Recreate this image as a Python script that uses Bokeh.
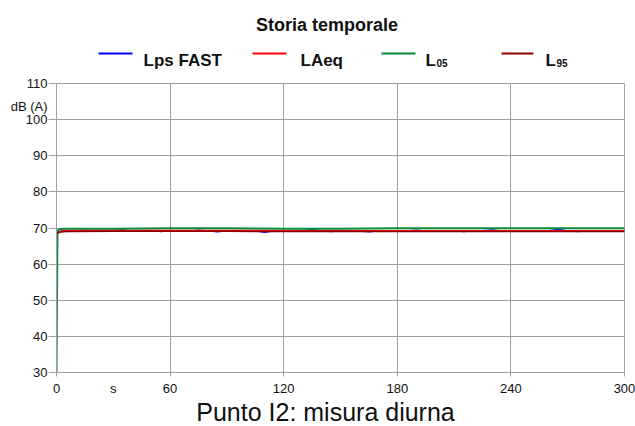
from bokeh.plotting import figure
from bokeh.models import Range1d, FixedTicker, LinearAxis
from bokeh.layouts import column
from bokeh.core.properties import value
from bokeh.embed import file_html
from bokeh.resources import INLINE

# ---- data ----
title_text = "Storia temporale"
caption_text = "Punto I2: misura diurna"
series_names = ["Lps FAST", "LAeq", "L", "L"]
series_subs = ["", "", "05", "95"]
x_ticks = [0, 60, 120, 180, 240, 300]
y_ticks = [30, 40, 50, 60, 70, 80, 90, 100, 110]
x_unit = "s"
y_unit = "dB (A)"

t_fast = [0.5, 1, 2, 3,
          5, 10, 15, 20, 25, 30, 35, 40, 45, 50,
          55, 60, 65, 70, 75, 80, 85, 90, 95, 100,
          105, 110, 115, 120, 125, 130, 135, 140, 145, 150,
          155, 160, 165, 170, 175, 180, 185, 190, 195, 200,
          205, 210, 215, 220, 225, 230, 235, 240, 245, 250,
          255, 260, 265, 270, 275, 280, 285, 290, 295, 300]
lps_fast = [68.6, 68.9, 69.1, 69.2,
            69.3, 69.2, 69.4, 69.1, 69.3, 69.2, 69.5, 69.1, 69.2, 69.3,
            69.0, 69.2, 69.3, 69.1, 69.4, 69.2, 68.9, 69.2, 69.3, 69.1,
            69.2, 68.8, 69.2, 69.3, 69.1, 69.2, 69.6, 69.2, 69.0, 69.2,
            69.3, 69.1, 68.9, 69.2, 69.3, 69.1, 69.2, 69.4, 69.2, 69.1,
            69.3, 69.2, 69.0, 69.2, 69.3, 69.5, 69.2, 69.1, 69.3, 69.2,
            69.1, 69.3, 69.6, 69.2, 69.0, 69.2, 69.3, 69.1, 69.2, 69.3]

t_laeq = [0.5, 1, 2, 3, 5, 10, 20, 30, 60, 90, 120, 150, 180, 210, 240, 270, 300]
laeq = [68.6, 68.8, 69.0, 69.1, 69.2, 69.3, 69.3, 69.3, 69.3, 69.3, 69.2, 69.2,
        69.2, 69.2, 69.2, 69.2, 69.2]

t_l05 = [0, 0.5, 1, 2, 5, 30, 60, 90, 120, 150, 180, 210, 240, 270, 300]
l05 = [30, 68.9, 69.5, 69.7, 69.8, 69.8, 69.9, 69.9, 69.8, 69.8, 69.9, 69.9,
       69.9, 69.9, 69.9]

t_l95 = [0.5, 1, 2, 5, 10, 30, 60, 90, 120, 150, 180, 210, 240, 270, 300]
l95 = [68.4, 68.7, 68.9, 69.0, 69.0, 69.1, 69.1, 69.1, 69.0, 69.1, 69.0, 69.0,
       69.0, 69.0, 69.0]

colors = ["#0000ff", "#ff0000", "#0a8a3a", "#8b0000"]
FONT = "Liberation Sans"
GRID = "#a0a0a0"
INK = "#111111"
W = 635


def blank(h):
    f = figure(width=W, height=h, x_range=Range1d(0, W), y_range=Range1d(h, 0),
               title=None, x_axis_type=None, y_axis_type=None, output_backend="svg",
               toolbar_location=None, min_border_left=0, min_border_right=0,
               min_border_top=0, min_border_bottom=0, frame_align=False)
    f.outline_line_color = None
    f.background_fill_color = "white"
    f.border_fill_color = "white"
    return f


# ---- header: title + legend ----
top = blank(75)
top.text(x=[326.5], y=[24], text=[title_text], text_font=value(FONT), text_font_size="18px",
         text_font_style="bold", text_align="center", text_baseline="alphabetic", text_color=INK)
leg_x0 = [98, 252, 381, 501]
leg_x1 = [132, 286, 415, 533]
leg_tx = [143, 300, 425, 545]
sub_tx = [0, 0, 436, 556]
top.segment(x0=leg_x0, y0=[53] * 4, x1=leg_x1, y1=[53] * 4, line_color=colors, line_width=2.2)
top.text(x=leg_tx, y=[60] * 4, text=series_names, text_font=value(FONT), text_font_size="17px",
         text_font_style="bold", text_align="left", text_baseline="alphabetic", text_color=INK)
top.text(x=sub_tx[2:], y=[62] * 2, text=series_subs[2:], text_font=value(FONT),
         text_font_size="10px", text_font_style="bold", text_align="left",
         text_baseline="alphabetic", text_color=INK)

# ---- main chart ----
p = figure(width=W, height=323, x_range=Range1d(0, 300), y_range=Range1d(30, 110),
           title=None, output_backend="svg", toolbar_location=None, frame_align=False,
           min_border_left=56, min_border_right=11, min_border_top=8, min_border_bottom=25)
p.background_fill_color = "white"
p.border_fill_color = "white"
p.outline_line_color = GRID

# inner axes: tick marks only
for ax, ticks, out in ((p.xaxis[0], x_ticks, 4), (p.yaxis[0], y_ticks, 8)):
    ax.ticker = FixedTicker(ticks=ticks)
    ax.axis_line_color = GRID
    ax.major_tick_line_color = GRID
    ax.minor_tick_line_color = None
    ax.major_tick_in = 0
    ax.major_tick_out = out
    ax.major_label_standoff = 0
    ax.major_label_text_font_size = "1px"
    ax.major_label_text_color = None
    ax.major_label_overrides = {t: "" for t in ticks}

# outer axes: labels only (including the unit labels)
xlab_ticks = x_ticks + [30]
ylab_ticks = y_ticks + [103.7]
xl = LinearAxis(ticker=FixedTicker(ticks=xlab_ticks), major_label_overrides={30: x_unit})
yl = LinearAxis(ticker=FixedTicker(ticks=ylab_ticks), major_label_overrides={103.7: y_unit})
for ax in (xl, yl):
    ax.axis_line_color = None
    ax.major_tick_line_color = None
    ax.minor_tick_line_color = None
    ax.major_tick_in = 0
    ax.major_tick_out = 0
    ax.major_label_text_font = FONT
    ax.major_label_text_font_size = "13px"
    ax.major_label_text_color = INK
xl.major_label_standoff = 4
yl.major_label_standoff = 1
p.add_layout(xl, "below")
p.add_layout(yl, "left")

p.xgrid.ticker = FixedTicker(ticks=x_ticks)
p.ygrid.ticker = FixedTicker(ticks=y_ticks)
p.xgrid.grid_line_color = GRID
p.ygrid.grid_line_color = GRID

p.line(t_fast, lps_fast, line_color=colors[0], line_width=1.2)
p.line(t_laeq, laeq, line_color=colors[1], line_width=1.8)
p.line(t_l05, l05, line_color=colors[2], line_width=2)
p.line(t_l95, l95, line_color=colors[3], line_width=1.5)

# ---- footer caption ----
bot = blank(28)
bot.text(x=[325], y=[13], text=[caption_text], text_font=value(FONT), text_font_size="25px",
         text_align="center", text_baseline="alphabetic", text_color=INK)

layout = column(top, p, bot, spacing=0)
open("out.html", "w").write(file_html(layout, INLINE))
